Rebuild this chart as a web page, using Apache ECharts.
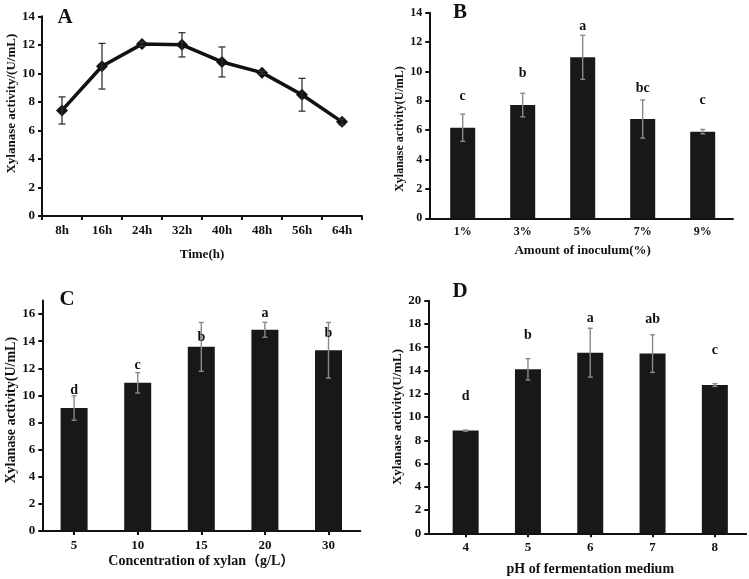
<!DOCTYPE html>
<html><head><meta charset="utf-8">
<script src="https://cdn.jsdelivr.net/npm/echarts@6/dist/echarts.min.js"></script>
<style>html,body{margin:0;padding:0;background:#fff}#c{width:749px;height:579px}</style>
</head><body><div id="c"></div>
<script>
const timeCats = ['8h','16h','24h','32h','40h','48h','56h','64h'];
const timeVals = [7.4, 10.5, 12.05, 12.0, 10.8, 10.05, 8.5, 6.6];
const timeErr  = [0.95, 1.6, 0.15, 0.85, 1.05, 0.1, 1.15, 0.2];

const inocCats = ['1%','3%','5%','7%','9%'];
const inocVals = [6.17, 7.71, 10.96, 6.76, 5.9];
const inocErr  = [0.93, 0.8, 1.5, 1.3, 0.15];
const inocLetters = ['c','b','a','bc','c'];
const inocLetterY = [8.3, 9.85, 13.1, 8.85, 8.05];

const xylanCats = ['5','10','15','20','30'];
const xylanVals = [9.07, 10.93, 13.58, 14.84, 13.33];
const xylanErr  = [0.9, 0.75, 1.8, 0.55, 2.05];
const xylanLetters = ['d','c','b','a','b'];
const xylanLetterY = [10.4, 12.2, 14.3, 16.05, 14.6];

const phCats = ['4','5','6','7','8'];
const phVals = [8.83, 14.1, 15.53, 15.45, 12.75];
const phErr  = [0.05, 0.92, 2.1, 1.62, 0.12];
const phLetters = ['d','b','a','ab','c'];
const phLetterY = [11.8, 17.05, 18.5, 18.4, 15.7];

const FONT = "'Liberation Serif','Times New Roman','Noto Sans CJK SC',serif";
const chart = echarts.init(document.getElementById('c'), null, {renderer:'canvas'});

function errSeries(idx, vals, errs, color, cap, lw){
  return {
    type:'custom', xAxisIndex:idx, yAxisIndex:idx, z:5,
    data: vals.map((v,i)=>[i, v, errs[i]]),
    renderItem:function(params, api){
      const i=api.value(0), v=api.value(1), e=api.value(2);
      const t=api.coord([i, v+e]), b=api.coord([i, v-e]);
      const h=cap/2, st={stroke:color, lineWidth:lw};
      return {type:'group', children:[
        {type:'line', shape:{x1:t[0],y1:t[1],x2:b[0],y2:b[1]}, style:st},
        {type:'line', shape:{x1:t[0]-h,y1:t[1],x2:t[0]+h,y2:t[1]}, style:st},
        {type:'line', shape:{x1:b[0]-h,y1:b[1],x2:b[0]+h,y2:b[1]}, style:st}
      ]};
    }
  };
}
function letterSeries(idx, letters, ys){
  return {
    type:'custom', xAxisIndex:idx, yAxisIndex:idx, z:6,
    data: ys.map((y,i)=>[i, y]),
    renderItem:function(params, api){
      const p=api.coord([api.value(0), api.value(1)]);
      return {type:'text', x:p[0], y:p[1], style:{text:letters[params.dataIndex], textAlign:'center', textVerticalAlign:'middle', font:'bold 14px '+FONT, fill:'#111'}};
    }
  };
}
const lbl = (size, margin, extra) => Object.assign({color:'#111', fontFamily:FONT, fontWeight:'bold', fontSize:size, margin:margin}, extra||{});
const nts = (size, pad) => ({color:'#111', fontFamily:FONT, fontWeight:'bold', fontSize:size, padding:pad||0});

function xAx(idx, cats, opts){
  return Object.assign({
    type:'category', gridIndex:idx, data:cats, boundaryGap:true,
    axisLine:{lineStyle:{color:'#111', width:2}},
    axisTick:{show:true, alignWithLabel:true, length:4, lineStyle:{color:'#111', width:2}},
    axisLabel:lbl(13, 8),
    nameLocation:'middle',
    nameTextStyle:nts(13),
    splitLine:{show:false}
  }, opts);
}
function yAx(idx, max, labels, opts){
  return Object.assign({
    type:'value', gridIndex:idx, min:0, max:max,
    axisLine:{show:true, lineStyle:{color:'#111', width:2}},
    axisTick:{show:true, length:4, customValues:labels, lineStyle:{color:'#111', width:2}},
    axisLabel:lbl(13, 7, {customValues:labels}),
    splitLine:{show:false},
    nameLocation:'middle',
    nameTextStyle:nts(13)
  }, opts);
}
// plain baseline axes that run the x-axis line from the y-axis to the end (panels B, D)
function baseX(idx){
  return {type:'value', gridIndex:idx, min:0, max:1, axisLine:{show:true, lineStyle:{color:'#111', width:2}},
    axisTick:{show:false}, axisLabel:{show:false}, splitLine:{show:false}};
}
function baseY(idx){
  return {type:'value', gridIndex:idx, min:0, max:1, show:false};
}
const evens14=[0,2,4,6,8,10,12,14], evens16=[0,2,4,6,8,10,12,14,16], evens20=[0,2,4,6,8,10,12,14,16,18,20];

function panelLetter(t, x, y){
  return {type:'text', x:x, y:y, style:{text:t, font:'bold 21px '+FONT, fill:'#111', textAlign:'center', textVerticalAlign:'middle'}};
}

const option = {
  backgroundColor:'#fff',
  animation:false,
  graphic:[panelLetter('A',65,18), panelLetter('B',460,13), panelLetter('C',67,300), panelLetter('D',460,292)],
  grid:[
    {left:42, top:16.3, width:320, height:199.7},
    {left:432.7, top:12.7, width:300, height:205.6},
    {left:42.3, top:300.5, width:318, height:230.5},
    {left:434.5, top:300.7, width:311.5, height:232.6},
    {left:429.3, top:12.7, width:303.4, height:205.6},
    {left:428.3, top:300.7, width:317.7, height:232.6}
  ],
  xAxis:[
    xAx(0, timeCats, {name:'Time(h)', nameGap:32, axisTick:{show:true, alignWithLabel:false, length:4, lineStyle:{color:'#111', width:2}}}),
    xAx(1, inocCats, {name:'Amount of inoculum(%)', nameGap:26, axisTick:{show:false}, axisLabel:lbl(12, 8)}),
    xAx(2, xylanCats, {name:'Concentration of xylan（g/L）', nameGap:23, nameTextStyle:nts(14)}),
    xAx(3, phCats, {name:'pH of fermentation medium', nameGap:29, nameTextStyle:nts(14)}),
    baseX(4), baseX(5)
  ],
  yAxis:[
    yAx(0, 14, evens14, {name:'Xylanase activity/(U/mL)', nameGap:23, nameTextStyle:nts(13, [0,0,0,25])}),
    yAx(1, 14, evens14, {name:'Xylanase activity(U/mL)', nameGap:20, offset:3.4, nameTextStyle:nts(12, [0,27,0,0]), axisLabel:lbl(12, 7, {customValues:evens14})}),
    yAx(2, 17, evens16, {name:'Xylanase activity(U/mL)', nameGap:23, nameTextStyle:nts(14, [0,0,0,11])}),
    yAx(3, 20, evens20, {name:'Xylanase activity(U/mL)', nameGap:19, offset:6.2}),
    baseY(4), baseY(5)
  ],
  series:[
    {type:'line', xAxisIndex:0, yAxisIndex:0, data:timeVals, symbol:'diamond', symbolSize:12,
     lineStyle:{color:'#111', width:3.5}, itemStyle:{color:'#111'}, z:4},
    errSeries(0, timeVals, timeErr, '#333', 7, 1.3),
    {type:'bar', xAxisIndex:1, yAxisIndex:1, data:inocVals, barWidth:25, itemStyle:{color:'#181818'}},
    errSeries(1, inocVals, inocErr, '#8a8a8a', 5, 1.4),
    letterSeries(1, inocLetters, inocLetterY),
    {type:'bar', xAxisIndex:2, yAxisIndex:2, data:xylanVals, barWidth:27, itemStyle:{color:'#181818'}},
    errSeries(2, xylanVals, xylanErr, '#8a8a8a', 5, 1.4),
    letterSeries(2, xylanLetters, xylanLetterY),
    {type:'bar', xAxisIndex:3, yAxisIndex:3, data:phVals, barWidth:26, itemStyle:{color:'#181818'}},
    errSeries(3, phVals, phErr, '#8a8a8a', 5, 1.4),
    letterSeries(3, phLetters, phLetterY)
  ]
};
chart.setOption(option);
</script></body></html>
